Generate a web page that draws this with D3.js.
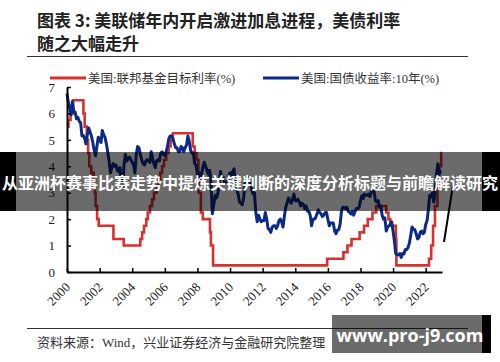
<!DOCTYPE html>
<html>
<head>
<meta charset="utf-8">
<script src="https://cdn.jsdelivr.net/npm/d3@7"></script>
<style>
  body { margin: 0; background: #fff; }
  svg { display: block; }
</style>
</head>
<body>
<div id="chart"></div>
<script>
// Fed funds target rate: change dates and new level (%)
var fedDates = ["2000-01-01","2000-02-02","2000-03-21","2000-05-16","2001-01-03","2001-01-31","2001-03-20","2001-04-18","2001-05-15","2001-06-27","2001-08-21","2001-09-17","2001-10-02","2001-11-06","2001-12-11","2002-11-06","2003-06-25","2004-06-30","2004-08-10","2004-09-21","2004-11-10","2004-12-14","2005-02-02","2005-03-22","2005-05-03","2005-06-30","2005-08-09","2005-09-20","2005-11-01","2005-12-13","2006-01-31","2006-03-28","2006-05-10","2006-06-29","2007-09-18","2007-10-31","2007-12-11","2008-01-22","2008-01-30","2008-03-18","2008-04-30","2008-10-08","2008-10-29","2008-12-16","2015-12-16","2016-12-14","2017-03-15","2017-06-14","2017-12-13","2018-03-21","2018-06-13","2018-09-26","2018-12-19","2019-07-31","2019-09-18","2019-10-30","2020-03-03","2020-03-15","2022-03-16","2022-05-04","2022-06-15","2022-07-27","2022-09-21","2022-11-02","2022-12-14","2022-12-31"];
var fedRates = [5.5,5.75,6.0,6.5,6.0,5.5,5.0,4.5,4.0,3.75,3.5,3.0,2.5,2.0,1.75,1.25,1.0,1.25,1.5,1.75,2.0,2.25,2.5,2.75,3.0,3.25,3.5,3.75,4.0,4.25,4.5,4.75,5.0,5.25,4.75,4.5,4.25,3.5,3.0,2.25,2.0,1.5,1.0,0.25,0.5,0.75,1.0,1.25,1.5,1.75,2.0,2.25,2.5,2.25,2.0,1.75,1.25,0.25,0.5,1.0,1.75,2.5,3.25,4.0,4.5,4.5];

// 10Y Treasury yield, monthly from Jan 2000 (%)
var yieldStart = "2000-01";
var yields = [
  6.75,6.40,6.20,5.95,6.45,6.05,6.05,5.80,5.85,5.70,5.65,5.15,
  5.16,5.05,4.85,5.20,5.45,5.30,5.15,4.90,4.60,4.40,4.75,5.10,
  5.05,4.90,5.35,5.20,5.10,4.85,4.55,4.20,3.75,3.95,4.10,4.00,
  4.05,3.85,3.80,3.95,3.45,3.20,4.05,4.45,4.20,4.30,4.35,4.25,
  4.15,4.05,3.75,4.45,4.75,4.70,4.45,4.25,4.10,4.05,4.20,4.25,
  4.20,4.15,4.55,4.30,4.10,3.95,4.20,4.25,4.20,4.50,4.55,4.45,
  4.40,4.55,4.75,5.05,5.15,5.15,5.05,4.85,4.70,4.70,4.55,4.55,
  4.75,4.70,4.55,4.70,4.80,5.15,4.95,4.60,4.50,4.50,4.10,4.05,
  3.70,3.75,3.45,3.70,3.95,4.15,4.00,3.85,3.70,3.85,3.35,2.20,
  2.55,2.90,2.80,2.95,3.35,3.80,3.55,3.60,3.35,3.40,3.40,3.65,
  3.75,3.65,3.80,3.90,3.35,3.10,2.95,2.65,2.60,2.55,2.80,3.35,
  3.40,3.60,3.40,3.45,3.10,2.95,3.00,2.25,1.90,2.15,2.00,1.90,
  1.95,1.95,2.25,2.00,1.65,1.60,1.50,1.70,1.75,1.75,1.65,1.75,
  1.95,2.00,1.90,1.70,2.10,2.45,2.60,2.80,2.70,2.60,2.75,2.95,
  2.70,2.70,2.75,2.65,2.50,2.60,2.55,2.40,2.50,2.30,2.30,2.15,
  1.75,2.00,2.00,2.05,2.20,2.35,2.25,2.20,2.10,2.15,2.25,2.25,
  2.00,1.75,1.85,1.85,1.85,1.55,1.45,1.58,1.60,1.80,2.30,2.45,
  2.45,2.40,2.45,2.30,2.25,2.20,2.30,2.15,2.30,2.40,2.40,2.45,
  2.70,2.88,2.78,2.95,2.90,2.90,2.95,2.85,3.05,3.15,3.05,2.70,
  2.65,2.70,2.45,2.50,2.15,2.00,2.05,1.55,1.70,1.75,1.80,1.90,
  1.55,1.15,0.70,0.65,0.65,0.70,0.55,0.70,0.68,0.85,0.85,0.92,
  1.10,1.40,1.70,1.62,1.60,1.45,1.25,1.30,1.50,1.55,1.45,1.50,
  1.80,1.95,2.35,2.90,2.85,3.00,2.65,3.10,3.75,4.10,3.70,3.85
];

var titleLines = ["图表 3: 美联储年内开启激进加息进程，美债利率", "随之大幅走升"];
var legendNames = ["美国:联邦基金目标利率(%)", "美国:国债收益率:10年(%)"];
var yTicks = [0, 1, 2, 3, 4, 5, 6, 7];
var xTickYears = [2000, 2002, 2004, 2006, 2008, 2010, 2012, 2014, 2016, 2018, 2020, 2022];
var sourceText = "资料来源：Wind，兴业证券经济与金融研究院整理";
var bannerText = "从亚洲杯赛事比赛走势中提炼关键判断的深度分析标题与前瞻解读研究";
var watermarkText = "www.pro-j9.com";

var W = 500, H = 362;
var red = "#d7302f", blue = "#0b2a86";
var serif = "'Liberation Serif', 'Noto Sans CJK SC', serif";
var cjk = "'Noto Sans CJK SC', sans-serif";

var parse = d3.timeParse("%Y-%m-%d");
var fed = fedDates.map(function(d, i){ return {date: parse(d), value: fedRates[i]}; });
var start = d3.timeParse("%Y-%m")(yieldStart);
var tsy = yields.map(function(v, i){ return {date: d3.timeMonth.offset(start, i), value: v}; });

var svg = d3.select("#chart").append("svg")
  .attr("width", W).attr("height", H);

// title
svg.selectAll(".title").data(titleLines).enter().append("text")
  .attr("x", 37).attr("y", function(d, i){ return 27 + i * 23; })
  .attr("font-family", cjk).attr("font-weight", 700)
  .attr("font-size", 17).attr("fill", "#222")
  .text(function(d){ return d; });

svg.append("line").attr("x1", 27).attr("x2", 468).attr("y1", 56.5).attr("y2", 56.5)
  .attr("stroke", "#333").attr("stroke-width", 1);

// legend
var legendX = [50, 263];
var lg = svg.selectAll(".lg").data(legendNames).enter().append("g")
  .attr("transform", function(d, i){ return "translate(" + legendX[i] + ",78)"; });
lg.append("line").attr("x1", 0).attr("x2", 36).attr("y1", 0).attr("y2", 0)
  .attr("stroke", function(d, i){ return i === 0 ? red : blue; }).attr("stroke-width", 3);
lg.append("text").attr("x", 38).attr("y", 4.5)
  .attr("font-family", serif).attr("font-size", 12.5).attr("fill", "#333")
  .text(function(d){ return d; });

// scales
var x = d3.scaleTime()
  .domain([new Date(2000, 0, 1), new Date(2023, 0, 1)])
  .range([67, 442]);
var y = d3.scaleLinear().domain([0, 7]).range([272, 87]);

svg.append("path").datum(fed)
  .attr("d", d3.line().curve(d3.curveStepAfter)
    .x(function(d){ return x(d.date); }).y(function(d){ return y(d.value); }))
  .attr("fill", "none").attr("stroke", red).attr("stroke-width", 2.6);

svg.append("path").datum(tsy)
  .attr("d", d3.line().x(function(d){ return x(d.date); }).y(function(d){ return y(d.value); }))
  .attr("fill", "none").attr("stroke", blue).attr("stroke-width", 3)
  .attr("stroke-linejoin", "round");

// axes
var xTickDates = xTickYears.map(function(yr){ return new Date(yr, 0, 1); });
var yAxis = svg.append("g").attr("transform", "translate(67,0)")
  .call(d3.axisLeft(y).tickValues(yTicks).tickFormat(d3.format("d"))
    .tickSizeInner(-4).tickSizeOuter(0).tickPadding(12));
var xAxis = svg.append("g").attr("transform", "translate(0,272)")
  .call(d3.axisBottom(x).tickValues(xTickDates)
    .tickFormat("").tickSizeInner(-4).tickSizeOuter(0));

[yAxis, xAxis].forEach(function(g){
  g.select(".domain").attr("stroke", "#000").attr("stroke-width", 2);
  g.selectAll(".tick line").attr("stroke", "#000").attr("stroke-width", 1.5);
  g.selectAll("text").attr("font-family", serif).attr("font-size", 13).attr("fill", "#222");
});

// rotated year labels
svg.selectAll(".xlab").data(xTickDates).enter().append("text")
  .attr("class", "xlab")
  .attr("transform", function(d){ return "translate(" + (x(d) + 4) + ",288) rotate(-45)"; })
  .attr("text-anchor", "end")
  .attr("font-family", serif).attr("font-size", 13).attr("fill", "#222")
  .text(d3.timeFormat("%Y"));

// source
svg.append("line").attr("x1", 27).attr("x2", 468).attr("y1", 328.5).attr("y2", 328.5)
  .attr("stroke", "#333").attr("stroke-width", 1);
svg.append("text").attr("x", 37).attr("y", 347)
  .attr("font-family", serif).attr("font-size", 13).attr("fill", "#333")
  .text(sourceText);

// stray stroke
svg.append("line").attr("x1", 453).attr("y1", 185).attr("x2", 444).attr("y2", 242)
  .attr("stroke", "#000").attr("stroke-width", 2);

// overlay banner
svg.append("rect").attr("x", 0).attr("y", 152).attr("width", 16).attr("height", 59).attr("fill", "#000");
svg.append("rect").attr("x", 482).attr("y", 152).attr("width", 18).attr("height", 59).attr("fill", "#000");
svg.append("rect").attr("x", 16).attr("y", 152).attr("width", 466).attr("height", 59)
  .attr("fill", "#000").attr("fill-opacity", 0.58);
svg.append("text").attr("x", W / 2).attr("y", 189).attr("text-anchor", "middle")
  .attr("font-family", cjk).attr("font-weight", 700).attr("font-size", 16)
  .attr("fill", "#fff").text(bannerText);

// watermark
svg.append("rect").attr("x", 482).attr("y", 315).attr("width", 9).attr("height", 38).attr("fill", "#000");
svg.append("rect").attr("x", 332).attr("y", 315).attr("width", 150).attr("height", 38)
  .attr("fill", "#000").attr("fill-opacity", 0.58);
svg.append("text").attr("x", 410).attr("y", 342).attr("text-anchor", "middle")
  .attr("font-family", "'Open Sans', sans-serif").attr("font-weight", 700).attr("font-size", 18)
  .attr("fill", "#fff").text(watermarkText);
</script>
</body>
</html>
